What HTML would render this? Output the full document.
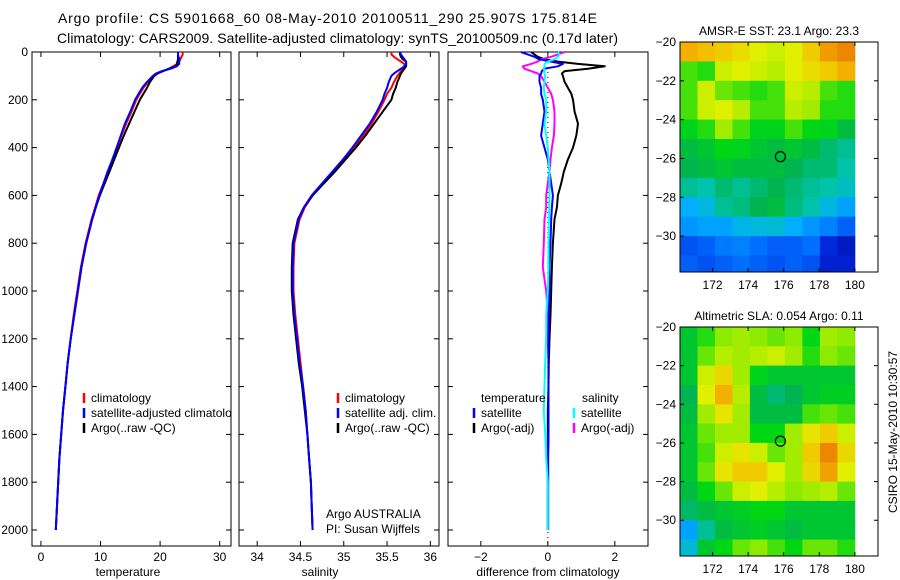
<!DOCTYPE html>
<html><head><meta charset="utf-8"><style>
body{margin:0;background:#fff}
svg{display:block;font-family:"Liberation Sans",sans-serif}
</style></head><body>
<svg id="fig" width="900" height="580" viewBox="0 0 900 580"></svg>
<script>
const depths=[0,10,20,30,40,50,60,70,80,90,100,125,150,175,200,250,300,350,400,450,500,550,600,650,700,800,900,1000,1100,1200,1300,1400,1500,1600,1700,1800,1900,2000];
const argoT=[23.0,23.0,23.0,23.0,22.9,22.8,22.6,21.5,20.5,19.5,19.0,18.3,17.8,17.2,16.6,15.7,14.8,13.9,13.1,12.3,11.5,10.7,9.9,9.2,8.6,7.6,6.8,6.2,5.6,5.0,4.5,4.1,3.7,3.4,3.1,2.9,2.7,2.5];
const climT=[23.8,23.8,23.6,23.4,23.2,22.9,22.2,21.5,20.5,19.6,19.0,18.0,17.2,16.6,16.0,15.2,14.3,13.5,12.8,12.0,11.2,10.5,9.7,9.1,8.5,7.5,6.7,6.1,5.5,5.0,4.5,4.1,3.7,3.4,3.1,2.9,2.7,2.5];
const satT=[23.0,23.0,23.1,23.2,23.2,23.2,22.8,21.8,20.3,19.3,18.8,17.8,17.0,16.4,15.8,15.0,14.1,13.4,12.7,12.0,11.2,10.5,9.8,9.2,8.6,7.6,6.8,6.2,5.6,5.0,4.5,4.1,3.7,3.4,3.1,2.9,2.7,2.5];
const argoS=[35.65,35.65,35.66,35.68,35.72,35.72,35.72,35.7,35.68,35.66,35.65,35.62,35.6,35.57,35.55,35.45,35.35,35.25,35.14,35.02,34.9,34.77,34.64,34.54,34.47,34.41,34.4,34.4,34.42,34.45,34.48,34.52,34.55,34.58,34.6,34.62,34.63,34.64];
const climS=[35.55,35.55,35.58,35.62,35.66,35.7,35.7,35.68,35.66,35.64,35.62,35.58,35.55,35.5,35.47,35.4,35.32,35.22,35.12,35.0,34.88,34.76,34.64,34.55,34.49,34.43,34.42,34.42,34.44,34.47,34.5,34.53,34.56,34.58,34.6,34.62,34.63,34.64];
const satS=[35.65,35.66,35.68,35.7,35.72,35.72,35.7,35.66,35.62,35.58,35.55,35.52,35.5,35.47,35.45,35.38,35.3,35.2,35.1,34.99,34.87,34.75,34.63,34.54,34.48,34.42,34.41,34.41,34.43,34.46,34.49,34.53,34.56,34.58,34.6,34.62,34.63,34.64];
const dTargo=[-0.5,-0.4,-0.3,-0.1,0.3,0.9,1.7,1.2,0.5,0.42,0.45,0.5,0.6,0.7,0.75,0.8,0.9,0.85,0.75,0.6,0.48,0.4,0.3,0.27,0.2,0.15,0.12,0.1,0.08,0.05,0.03,0.02,0.0,0.0,0,0,0,0];
const dTsat=[-0.8,-0.6,-0.4,-0.27,0.1,0.45,0.3,-0.1,-0.18,-0.2,-0.25,-0.25,-0.2,-0.2,-0.15,-0.1,-0.15,-0.2,-0.1,0,0.05,0.1,0.15,0.12,0.1,0.08,0.05,0.05,0.03,0.02,0.02,0.02,0.02,0.02,0.01,0.01,0.01,0.01];
const dSsat=[0.3,0.35,0.3,0.2,0.0,-0.1,-0.1,-0.12,-0.1,-0.1,-0.08,-0.1,-0.12,-0.1,-0.05,-0.05,-0.1,-0.05,0,0.02,0.05,0.05,0.05,0.04,0.03,0.02,0.02,0.0,-0.05,-0.05,-0.08,-0.1,-0.12,-0.08,-0.05,0,0,0];
const dSargo=[0.5,0.3,0.1,-0.2,-0.3,-0.5,-0.75,-0.7,-0.5,-0.3,-0.2,-0.1,0.0,0.1,0.15,0.2,0.2,0.18,0.12,0.08,0.05,0.0,-0.05,-0.05,-0.1,-0.12,-0.15,-0.05,0,0,0.02,0.02,0.02,0.02,0,0,0,0];
const depthTicks=[0,200,400,600,800,1000,1200,1400,1600,1800,2000];
const tTicks=[0,10,20,30];
const sTicks=[34,34.5,35,35.5,36];
const dTicks=[-2,0,2];
const latTicks=[-20,-22,-24,-26,-28,-30];
const lonTicks=[172,174,176,178,180];
const sstGrid=[
[0.82,0.8,0.78,0.75,0.72,0.7,0.72,0.78,0.85,0.88],
[0.6,0.58,0.7,0.72,0.7,0.68,0.72,0.75,0.78,0.82],
[0.6,0.7,0.62,0.6,0.58,0.6,0.7,0.68,0.6,0.58],
[0.6,0.7,0.72,0.68,0.6,0.6,0.68,0.66,0.58,0.58],
[0.55,0.58,0.66,0.6,0.55,0.55,0.6,0.56,0.55,0.5],
[0.5,0.52,0.56,0.55,0.52,0.5,0.52,0.5,0.45,0.42],
[0.48,0.5,0.52,0.5,0.5,0.5,0.48,0.45,0.45,0.4],
[0.42,0.4,0.45,0.42,0.45,0.48,0.45,0.42,0.4,0.38],
[0.32,0.35,0.42,0.44,0.48,0.5,0.44,0.4,0.35,0.3],
[0.28,0.3,0.3,0.34,0.35,0.36,0.32,0.28,0.25,0.2],
[0.18,0.2,0.24,0.25,0.22,0.2,0.2,0.22,0.12,0.08],
[0.2,0.18,0.2,0.22,0.2,0.18,0.2,0.18,0.1,0.1]];
const slaGrid=[
[0.52,0.58,0.64,0.66,0.64,0.62,0.64,0.56,0.66,0.64],
[0.52,0.62,0.68,0.66,0.68,0.7,0.66,0.58,0.64,0.62],
[0.52,0.7,0.76,0.66,0.55,0.52,0.52,0.52,0.52,0.52],
[0.48,0.72,0.82,0.68,0.5,0.45,0.48,0.52,0.54,0.54],
[0.5,0.66,0.74,0.66,0.5,0.5,0.5,0.6,0.62,0.6],
[0.52,0.62,0.66,0.66,0.56,0.56,0.66,0.74,0.78,0.7],
[0.52,0.6,0.7,0.74,0.7,0.62,0.66,0.78,0.88,0.76],
[0.52,0.62,0.74,0.78,0.78,0.72,0.66,0.76,0.84,0.72],
[0.5,0.56,0.62,0.7,0.72,0.68,0.64,0.66,0.68,0.62],
[0.46,0.5,0.52,0.54,0.56,0.56,0.52,0.52,0.52,0.52],
[0.3,0.42,0.5,0.52,0.54,0.52,0.5,0.52,0.52,0.52],
[0.36,0.52,0.56,0.62,0.64,0.6,0.56,0.62,0.62,0.58]];
const argoLon=175.814, argoLat=-25.907;

const NS='http://www.w3.org/2000/svg';
const svg=document.getElementById('fig');
function mk(tag,attrs,parent){const e=document.createElementNS(NS,tag);for(const k in attrs)e.setAttribute(k,attrs[k]);(parent||svg).appendChild(e);return e;}
function txt(x,y,s,opts,parent){const e=mk('text',Object.assign({x:x,y:y,'font-size':12,fill:'#000'},opts||{}),parent);e.textContent=s;return e;}

const pTop=52,pBot=546,dmax=2067;
const yD=d=>pTop+d/dmax*(pBot-pTop);
const panels=[
 {name:'temperature',l:32,r:231,x0:-1.5,x1:31.9,ticks:tTicks},
 {name:'salinity',l:239,r:439,x0:33.79,x1:36.1,ticks:sTicks},
 {name:'difference',l:448,r:648,x0:-2.98,x1:2.99,ticks:dTicks}];
panels.forEach(p=>{p.x=v=>p.l+(v-p.x0)/(p.x1-p.x0)*(p.r-p.l);});

function frame(p,key){
  const g=mk('g',{});
  
  
  mk('rect',{x:p.l,y:pTop,width:p.r-p.l,height:pBot-pTop,fill:'#fff',stroke:'#000','stroke-width':1},g);
  p.ticks.forEach(t=>{const X=p.x(t);
    mk('line',{x1:X,x2:X,y1:pTop,y2:pTop+5,stroke:'#000'},g);
    mk('line',{x1:X,x2:X,y1:pBot,y2:pBot-5,stroke:'#000'},g);
    const lb=txt(X,561,String(t).replace('-','\u2212'),{'text-anchor':'middle'},g);
    
    
  });
  depthTicks.forEach(d=>{const Y=yD(d);
    mk('line',{x1:p.l,x2:p.l+5,y1:Y,y2:Y,stroke:'#000'},g);
    mk('line',{x1:p.r,x2:p.r-5,y1:Y,y2:Y,stroke:'#000'},g);
  });
  return g;
}
function line(p,vals,color,name,w){
  const pts=vals.map((v,i)=>p.x(v).toFixed(1)+','+yD(depths[i]).toFixed(1)).join(' ');
  const e=mk('polyline',{points:pts,fill:'none',stroke:color,'stroke-width':w||2,'stroke-linejoin':'round'});
  
  
}
function legend(x,y,color,label,key){
  const m=mk('line',{x1:x,x2:x,y1:y-9,y2:y+1,stroke:color,'stroke-width':2.5});
  
  
  const t=txt(x+7,y,label,{});
  
  
  return t;
}

const t1=txt(58,23,'Argo profile: CS 5901668_60 08-May-2010 20100511_290 25.907S 175.814E',{'font-size':14,textLength:539});


const t2=txt(57,43,'Climatology: CARS2009. Satellite-adjusted climatology: synTS_20100509.nc (0.17d later)',{'font-size':14,textLength:561});



const P1=panels[0];frame(P1,'temperature');
depthTicks.forEach(d=>{const e=txt(28,yD(d)+4,String(d),{'text-anchor':'end'});
  
  });
line(P1,climT,'#ff0000','temperature-climatology-line');
line(P1,argoT,'#000','temperature-argo-line');
line(P1,satT,'#0000ff','temperature-satellite-line');
legend(84,402,'#ff0000','climatology','temperature-climatology');
legend(84,417,'#0000ff','satellite-adjusted climatology','temperature-satellite');
legend(84,432,'#000','Argo(..raw -QC)','temperature-argo');
let xl=txt(128,576,'temperature',{'text-anchor':'middle'});


const P2=panels[1];mk('rect',{x:232,y:pTop-1,width:7,height:pBot-pTop+2,fill:'#fff'});frame(P2,'salinity');
line(P2,climS,'#ff0000','salinity-climatology-line');
line(P2,argoS,'#000','salinity-argo-line');
line(P2,satS,'#0000ff','salinity-satellite-line');
legend(338,402,'#ff0000','climatology','salinity-climatology');
legend(338,417,'#0000ff','satellite adj. clim.','salinity-satellite');
legend(338,432,'#000','Argo(..raw -QC)','salinity-argo');
let a1=txt(326,518,'Argo AUSTRALIA',{});
let a2=txt(326,533,'PI: Susan Wijffels',{});
xl=txt(320,576,'salinity',{'text-anchor':'middle'});


const P3=panels[2];frame(P3,'difference');
const zl=mk('line',{x1:P3.x(0),x2:P3.x(0),y1:pTop,y2:pBot,stroke:'#000','stroke-dasharray':'1,4'});

line(P3,dTargo,'#000','temperature-argo-difference-line');
line(P3,dSargo,'#ff00ff','salinity-argo-difference-line');
line(P3,dTsat,'#0000ff','temperature-satellite-difference-line');
line(P3,dSsat,'#00ffff','salinity-satellite-difference-line');
let h1=txt(481,402,'temperature',{});
let h2=txt(582,402,'salinity',{});
legend(474,417,'#0000ff','satellite','diff-temperature-satellite');
legend(474,432,'#000','Argo(-adj)','diff-temperature-argo');
legend(574,417,'#00ffff','satellite','diff-salinity-satellite');
legend(574,432,'#ff00ff','Argo(-adj)','diff-salinity-argo');
xl=txt(548,576,'difference from climatology',{'text-anchor':'middle'});


const stops=[[0,[0,0,140]],[0.12,[0,40,220]],[0.22,[0,110,255]],[0.32,[0,175,255]],[0.4,[0,195,170]],[0.48,[0,180,80]],[0.56,[0,215,20]],[0.64,[140,235,0]],[0.72,[225,240,0]],[0.8,[245,190,0]],[0.9,[235,120,0]],[1,[200,60,0]]];
function cmap(v){for(let i=1;i<stops.length;i++){if(v<=stops[i][0]){const a=stops[i-1],b=stops[i],f=(v-a[0])/(b[0]-a[0]);
  const c=a[1].map((q,j)=>Math.round(q+(b[1][j]-q)*f));return 'rgb('+c+')';}}return 'rgb(200,60,0)';}
function drawMap(cfg){
  const {l,r,t,b,lon0,lon1,lat0,lat1,grid,key,title}=cfg;
  const X=lo=>l+(lo-lon0)/(lon1-lon0)*(r-l);
  const Y=la=>t+(lat0-la)/(lat0-lat1)*(b-t);
  const g=mk('g',{});
  mk('rect',{x:l,y:t,width:r-l,height:b-t,fill:'#fff'},g);
  const dl=(180-lon0)/grid[0].length;
  grid.forEach((row,i)=>row.forEach((v,j)=>{
    const la=-20-i,xa=X(lon0+j*dl),xb=X(lon0+(j+1)*dl),ya=Y(la),yb=Math.min(Y(la-1),b);
    const c=mk('rect',{x:xa.toFixed(1),y:ya.toFixed(1),width:(xb-xa+0.4).toFixed(1),height:(yb-ya+0.4).toFixed(1),fill:cmap(v)},g);
    
    
  }));
  mk('rect',{x:l,y:t,width:r-l,height:b-t,fill:'none',stroke:'#000'},g);
  latTicks.forEach(la=>{const yy=Y(la);
    mk('line',{x1:l,x2:l+4,y1:yy,y2:yy,stroke:'#000'},g);mk('line',{x1:r,x2:r-4,y1:yy,y2:yy,stroke:'#000'},g);
    const e=txt(l-4,yy+4,String(la).replace('-','\u2212'),{'text-anchor':'end'},g);
    });
  lonTicks.forEach(lo=>{const xx=X(lo);
    mk('line',{x1:xx,x2:xx,y1:t,y2:t+4,stroke:'#000'},g);mk('line',{x1:xx,x2:xx,y1:b,y2:b-4,stroke:'#000'},g);
    const e=txt(xx,b+17,String(lo),{'text-anchor':'middle'},g);
    });
  const c=mk('circle',{cx:X(argoLon),cy:Y(argoLat),r:5,fill:'none',stroke:'#000','stroke-width':1.2},g);
  
  const tt=txt((l+r)/2,t-7,title,{'text-anchor':'middle'},g);
  
}
drawMap({l:680,r:878,t:42,b:272,lon0:170.17,lon1:181.3,lat0:-20,lat1:-31.85,grid:sstGrid,key:'sst',title:'AMSR-E SST: 23.1 Argo: 23.3'});
drawMap({l:680,r:878,t:327,b:556,lon0:170.17,lon1:181.3,lat0:-20,lat1:-31.85,grid:slaGrid,key:'sla',title:'Altimetric SLA: 0.054 Argo: 0.11'});
const cs=txt(0,0,'CSIRO 15-May-2010 10:30:57',{'text-anchor':'middle',transform:'translate(897,432) rotate(-90)'});

</script>
</body></html>
